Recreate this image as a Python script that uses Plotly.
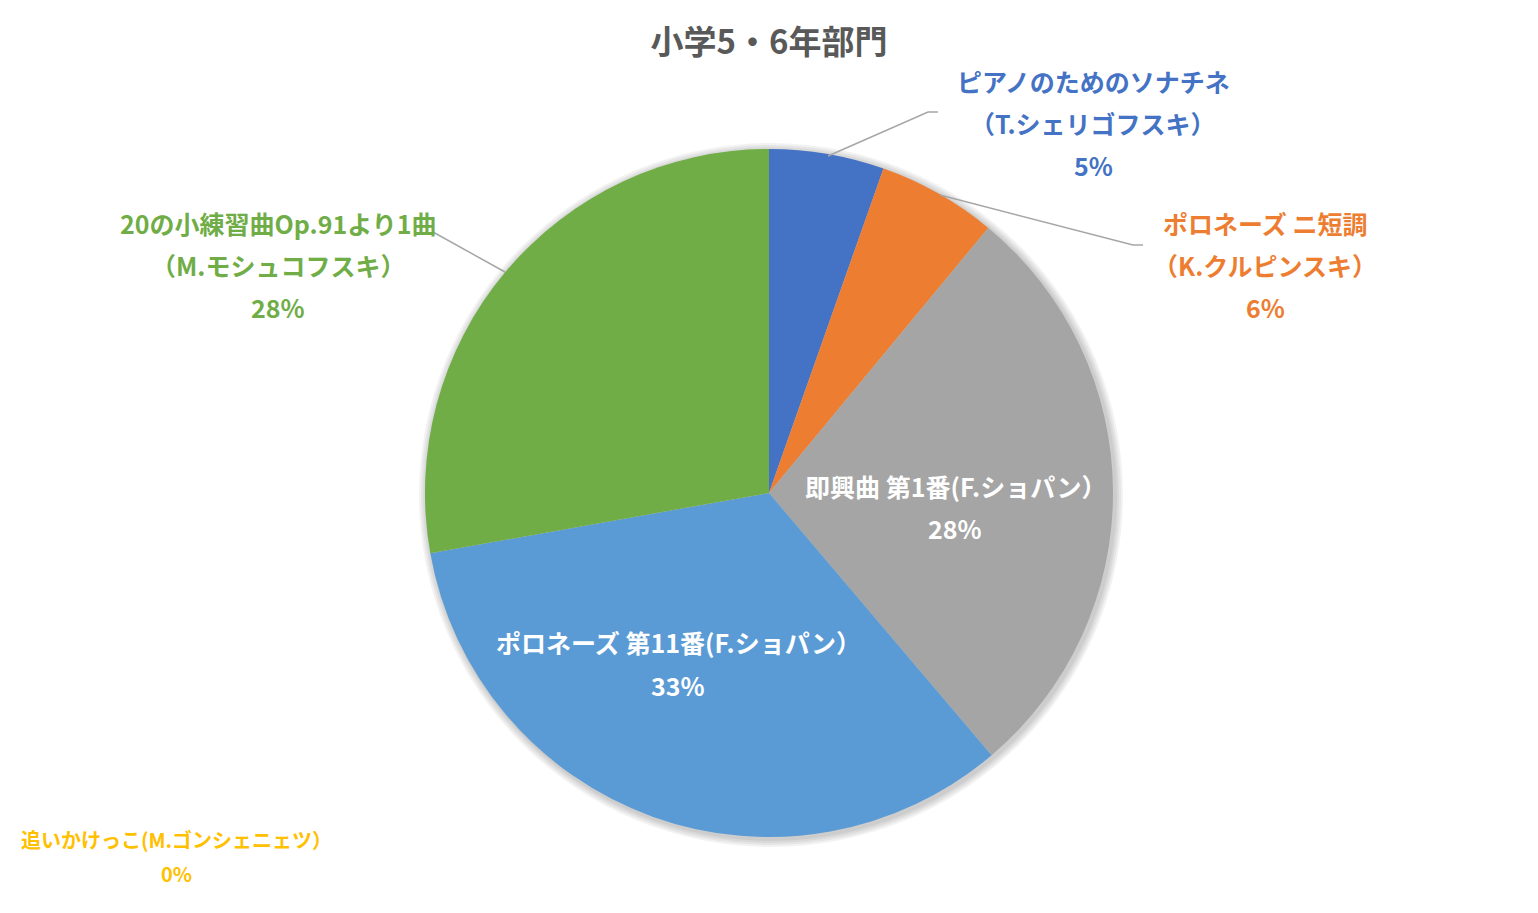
import plotly.graph_objects as go

title = "小学5・6年部門"
labels = [
    "ピアノのためのソナチネ\n（T.シェリゴフスキ）",
    "ポロネーズ ニ短調\n（K.クルピンスキ）",
    "即興曲 第1番(F.ショパン）",
    "追いかけっこ(M.ゴンシェニェツ）",
    "ポロネーズ 第11番(F.ショパン）",
    "20の小練習曲Op.91より1曲\n（M.モシュコフスキ）",
]
values = [5.4, 5.6, 27.8, 0.0, 33.4, 27.8]
colors = ["#4472C4", "#ED7D31", "#A5A5A5", "#FFC000", "#5B9BD5", "#70AD47"]
label_colors = ["#4472C4", "#ED7D31", "#FFFFFF", "#FFC000", "#FFFFFF", "#70AD47"]

W, H = 1538, 913
OFF = 8  # page body margin
FONT = "Noto Sans CJK JP, Noto Sans CJK SC, sans-serif"


def px(x):
    return (x - OFF) / W


def py(y):
    return 1 - (y - OFF) / H


# label placement in pixels: (centre x, first line y, line step, font size)
label_pos = [
    (1093, 81, 42, 25),
    (1265, 223, 42, 25),
    (955, 486, 42, 25),
    (176, 839, 34, 20),
    (678, 642, 43, 25),
    (278, 223, 42, 25),
]
# leader lines (pixels)
leaders = [
    [(828, 156), (928, 112), (938, 112)],
    [(940, 195), (1133, 245), (1143, 245)],
    None, None, None,
    [(505, 272), (433, 232)],
]

CX, CY, R = 769, 493, 344

total = sum(values)
fig = go.Figure(go.Pie(
    labels=[l.replace("\n", "") for l in labels],
    values=values,
    marker=dict(colors=colors, line=dict(width=0)),
    sort=False,
    direction="clockwise",
    rotation=0,
    textinfo="none",
    hoverinfo="label+percent",
    showlegend=False,
    domain=dict(x=[px(CX - R), px(CX + R)], y=[py(CY + R), py(CY - R)]),
))

# soft shadow around the pie
for i in range(4):
    r = R + 2 + i * 2
    fig.add_shape(type="circle", xref="paper", yref="paper", layer="below",
                  x0=px(CX + 2 - r), x1=px(CX + 2 + r),
                  y0=py(CY + 2 + r), y1=py(CY + 2 - r),
                  fillcolor="rgba(0,0,0,0.05)", line=dict(width=0))

for lab, v, col, (cx, y0, step, fs) in zip(labels, values, label_colors, label_pos):
    lines = lab.split("\n") + [f"{round(v / total * 100)}%"]
    for k, line in enumerate(lines):
        fig.add_annotation(
            x=px(cx), y=py(y0 + k * step), xref="paper", yref="paper",
            text=f"<b>{line}</b>", showarrow=False,
            xanchor="center", yanchor="middle",
            font=dict(family=FONT, size=fs, color=col),
        )

for pts in leaders:
    if not pts:
        continue
    path = "M " + " L ".join(f"{px(x)},{py(y)}" for x, y in pts)
    fig.add_shape(type="path", xref="paper", yref="paper", path=path,
                  line=dict(color="#A6A6A6", width=1.5))

fig.update_layout(
    width=W, height=H,
    margin=dict(l=0, r=0, t=0, b=0),
    paper_bgcolor="white",
    plot_bgcolor="white",
    title=dict(text=f"<b>{title}</b>", x=px(769), xanchor="center",
               y=py(42), yanchor="middle",
               font=dict(family=FONT, size=33, color="#595959")),
)

fig.write_html("out.html")
